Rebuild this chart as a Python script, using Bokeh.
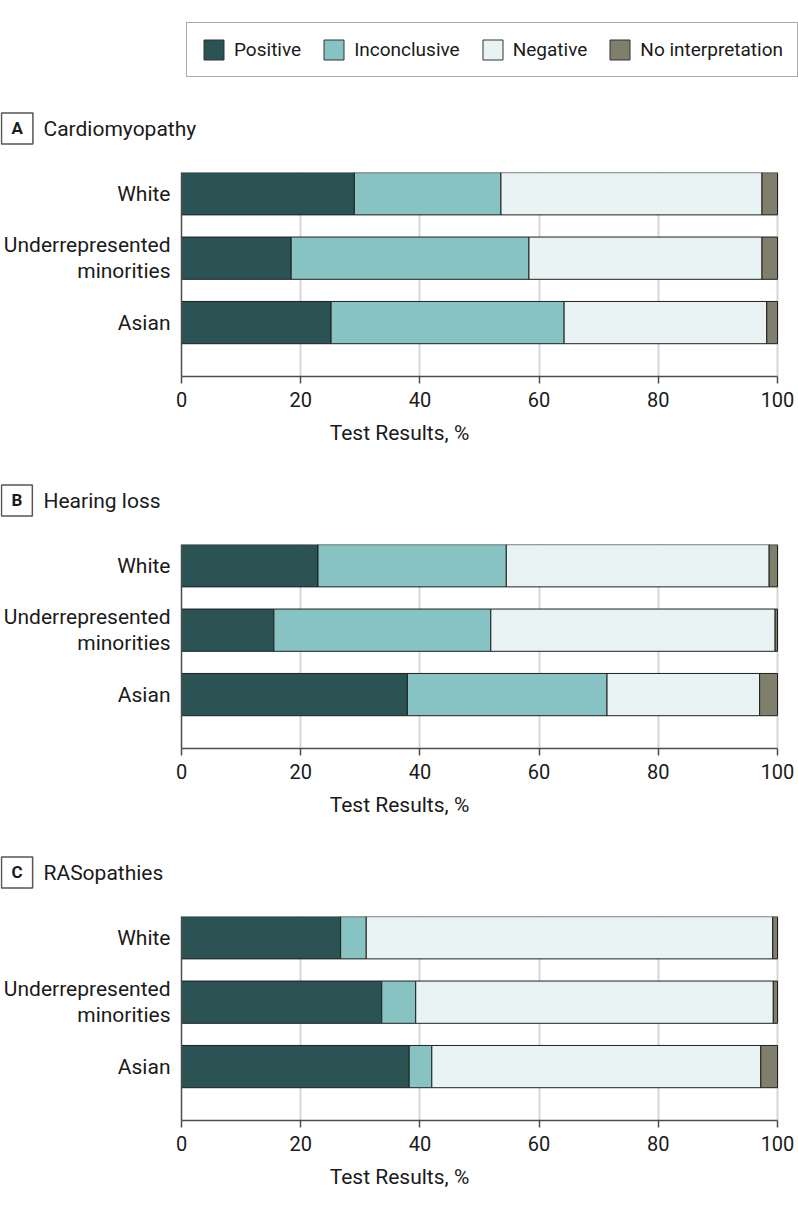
from bokeh.plotting import figure
from bokeh.models import Range1d, FixedTicker, Label, Legend, LegendItem, Span
from bokeh.core.properties import value
from bokeh.layouts import column
from bokeh.embed import file_html
from bokeh.resources import INLINE

# ---------------- data ----------------
categories = ["White", "Underrepresented minorities", "Asian"]
category_labels = ["White", "Underrepresented\nminorities", "Asian"]
result_types = ["Positive", "Inconclusive", "Negative", "No interpretation"]
panel_letters = ["A", "B", "C"]
panel_titles = ["Cardiomyopathy", "Hearing loss", "RASopathies"]
x_ticks = [0, 20, 40, 60, 80, 100]
x_axis_title = "Test Results, %"

cardiomyopathy_positive = [29.0, 18.4, 25.1]
cardiomyopathy_inconclusive = [24.6, 39.9, 39.1]
cardiomyopathy_negative = [43.8, 39.1, 34.0]
cardiomyopathy_no_interpretation = [2.6, 2.6, 1.8]

hearing_loss_positive = [22.9, 15.5, 37.9]
hearing_loss_inconclusive = [31.6, 36.4, 33.5]
hearing_loss_negative = [44.1, 47.7, 25.6]
hearing_loss_no_interpretation = [1.4, 0.4, 3.0]

rasopathies_positive = [26.7, 33.6, 38.2]
rasopathies_inconclusive = [4.3, 5.7, 3.8]
rasopathies_negative = [68.2, 60.0, 55.2]
rasopathies_no_interpretation = [0.8, 0.7, 2.8]

colors = ["#2B5354", "#87C3C2", "#EAF3F4", "#7F7F6B"]

panel_series = [
    [cardiomyopathy_positive, cardiomyopathy_inconclusive,
     cardiomyopathy_negative, cardiomyopathy_no_interpretation],
    [hearing_loss_positive, hearing_loss_inconclusive,
     hearing_loss_negative, hearing_loss_no_interpretation],
    [rasopathies_positive, rasopathies_inconclusive,
     rasopathies_negative, rasopathies_no_interpretation],
]

# ---------------- styling / geometry ----------------
FONT = "Roboto"
TEXT = "#1a1a1a"
AXIS = "#4d4d4d"
W = 798
PLOT_LEFT, PLOT_W = 181, 596          # pixel extent of the 0..100 scale
FRAME_H = 204
HEADER_H = 72


def blank(height):
    f = figure(width=W, height=height, min_border=0,
               x_range=Range1d(0, 1), y_range=Range1d(0, 1),
               x_axis_location=None, y_axis_location=None,
               output_backend="svg", toolbar_location=None, title=None)
    f.grid.visible = False
    f.outline_line_color = None
    return f


def make_header(letter, title):
    h = blank(HEADER_H)
    h.add_layout(Label(x=1, y=44, x_units="screen", y_units="screen",
                       text=letter, text_font=FONT, text_font_style="bold",
                       text_font_size="17px", text_color=TEXT,
                       text_align="left", text_baseline="middle",
                       border_line_color="#555555", border_line_width=1.5,
                       background_fill_color="white",
                       padding=dict(left=10, right=10, top=5, bottom=6)))
    h.add_layout(Label(x=43, y=44, x_units="screen", y_units="screen",
                       text=title, text_font=FONT, text_font_size="21px",
                       text_color=TEXT, text_align="left", text_baseline="middle"))
    return h


def make_panel(series, bottom_border):
    n = len(categories)
    ypos = [n - i for i in range(n)]
    px_per_unit = PLOT_W / 100.0
    x0 = -PLOT_LEFT / px_per_unit
    x1 = 100 + (W - PLOT_LEFT - PLOT_W) / px_per_unit
    p = figure(width=W, frame_height=FRAME_H,
               min_border_left=0, min_border_right=0,
               min_border_top=0, min_border_bottom=bottom_border,
               x_range=Range1d(x0, x1), y_range=Range1d(0.163, 3.33),
               y_axis_location=None,
               output_backend="svg", toolbar_location=None, title=None)
    p.outline_line_color = None
    left = [0.0] * n
    for vals, color in zip(series, colors):
        right = [a + b for a, b in zip(left, vals)]
        p.hbar(y=ypos, left=left, right=right, height=0.656,
               fill_color=color, line_color="#1f1f1f", line_width=1)
        left = right

    # category labels along the value axis origin
    p.text(x=[x_ticks[0]] * n, y=ypos, text=category_labels,
           x_offset=-11, text_align="right", text_baseline="middle",
           text_font=value(FONT), text_font_size="21px", text_color=TEXT,
           text_line_height=1.08)
    p.add_layout(Span(location=x_ticks[0], dimension="height",
                      line_color=AXIS, line_width=1.5))

    xa = p.xaxis[0]
    xa.bounds = (x_ticks[0], x_ticks[-1])
    xa.ticker = FixedTicker(ticks=x_ticks)
    xa.axis_label = x_axis_title
    xa.axis_label_text_font = FONT
    xa.axis_label_text_font_size = "21px"
    xa.axis_label_text_font_style = "normal"
    xa.axis_label_text_color = TEXT
    xa.axis_label_standoff = 11
    xa.major_label_text_font = FONT
    xa.major_label_text_font_size = "20px"
    xa.major_label_text_color = TEXT
    xa.major_label_standoff = 8
    xa.major_tick_in = 0
    xa.major_tick_out = 7
    xa.minor_tick_in = 0
    xa.minor_tick_out = 0
    xa.axis_line_color = AXIS
    xa.axis_line_width = 1.5
    xa.major_tick_line_color = AXIS
    xa.major_tick_line_width = 1.5

    p.ygrid.visible = False
    p.xgrid.ticker = FixedTicker(ticks=x_ticks[1:])
    p.xgrid.grid_line_color = "#d6d6d6"
    p.xgrid.grid_line_width = 2
    return p


# ---------------- legend ----------------
lp = blank(100)
proxies = [lp.hbar(y=[-1.0], left=[0.0], right=[1.0], height=0.5, fill_color=c,
                   line_color="#333333", line_width=1) for c in colors]
legend = Legend(items=[LegendItem(label=t, renderers=[r]) for t, r in zip(result_types, proxies)],
                orientation="horizontal", location=(186, 23), margin=0,
                padding=14, spacing=20, label_standoff=8,
                glyph_width=25, glyph_height=25,
                border_line_color="#555555", border_line_width=1.5,
                label_text_font=FONT, label_text_font_size="19px",
                label_text_color=TEXT, label_text_baseline="middle")
lp.add_layout(legend)

children = [lp]
for i, (letter, title, series) in enumerate(zip(panel_letters, panel_titles, panel_series)):
    bottom = 96 if i < len(panel_letters) - 1 else 80
    children.append(make_header(letter, title))
    children.append(make_panel(series, bottom))

layout = column(*children, spacing=0)
open("out.html", "w").write(file_html(layout, INLINE))
